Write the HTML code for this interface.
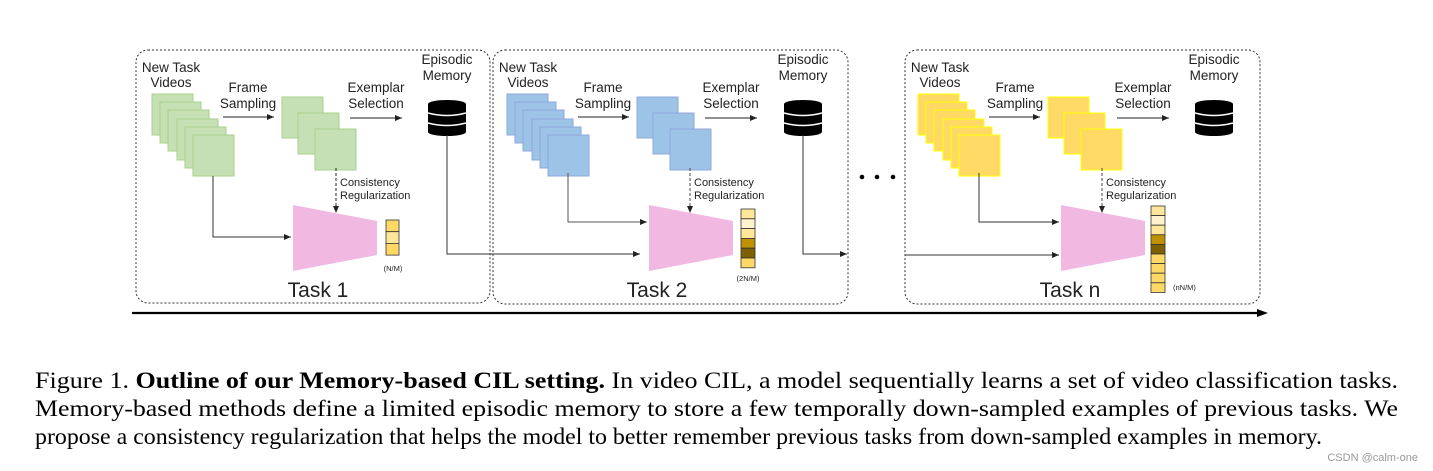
<!DOCTYPE html>
<html><head><meta charset="utf-8"><style>
html,body{margin:0;padding:0;background:#fff;}
svg{display:block;}
.d{font-family:"Liberation Sans","DejaVu Sans",sans-serif;fill:#222;}
.c{font-family:"Liberation Serif",serif;fill:#000;font-size:23px;}
</style></head><body>
<svg width="1433" height="471" viewBox="0 0 1433 471" xmlns="http://www.w3.org/2000/svg">
<defs>
<marker id="ar" markerWidth="8" markerHeight="8" refX="7" refY="4" orient="auto" markerUnits="userSpaceOnUse">
<path d="M0,1 L7,4 L0,7 z" fill="#222"/></marker>
<g id="db">
<ellipse cx="0" cy="4" rx="19" ry="4" fill="#000"/>
<rect x="-19" y="4" width="38" height="28" fill="#000"/>
<ellipse cx="0" cy="32" rx="19" ry="4" fill="#000"/>
<path d="M-19,13 Q0,18 19,13 M-19,23 Q0,28 19,23" stroke="#fff" stroke-width="1.5" fill="none"/>
</g>
</defs>

<rect x="136" y="50" width="354" height="253" rx="12" fill="none" stroke="#333" stroke-dasharray="2,2"/>
<rect x="493" y="50" width="355" height="254" rx="12" fill="none" stroke="#333" stroke-dasharray="2,2"/>
<rect x="905" y="50" width="355" height="254" rx="12" fill="none" stroke="#333" stroke-dasharray="2,2"/>

<!-- TASK 1 -->
<g class="d">
<text x="171" y="72" font-size="13.5" text-anchor="middle">New Task</text>
<text x="171" y="87" font-size="13.5" text-anchor="middle">Videos</text>
<text x="248" y="92" font-size="13.5" text-anchor="middle">Frame</text>
<text x="248" y="108" font-size="13.5" text-anchor="middle">Sampling</text>
<text x="376" y="92" font-size="13.5" text-anchor="middle">Exemplar</text>
<text x="376" y="108" font-size="13.5" text-anchor="middle">Selection</text>
<text x="447" y="64" font-size="13.5" text-anchor="middle">Episodic</text>
<text x="447" y="80" font-size="13.5" text-anchor="middle">Memory</text>
<text x="340" y="186" font-size="11">Consistency</text>
<text x="340" y="199" font-size="11">Regularization</text>
<text x="330" y="236" font-size="13.5" text-anchor="middle">Video</text>
<text x="330" y="252" font-size="13.5" text-anchor="middle">Classifier</text>
<text x="393" y="271" font-size="7.5" text-anchor="middle">(N/M)</text>
<text x="318" y="297" font-size="21" text-anchor="middle">Task 1</text>
</g>
<g fill="#c5e0b4" stroke="#a9d18e">
<rect x="152" y="94" width="41" height="41"/><rect x="160" y="102" width="41" height="41"/><rect x="168" y="110" width="41" height="41"/><rect x="177" y="119" width="41" height="41"/><rect x="185" y="127" width="41" height="41"/><rect x="193" y="135" width="41" height="41"/>
<rect x="282" y="97" width="41" height="41"/><rect x="298" y="113" width="41" height="41"/><rect x="315" y="129" width="41" height="41"/>
</g>
<use href="#db" x="447" y="100"/>
<line x1="223" y1="117" x2="274" y2="117" stroke="#222" marker-end="url(#ar)"/>
<line x1="350" y1="118" x2="402" y2="118" stroke="#222" marker-end="url(#ar)"/>
<line x1="336" y1="168" x2="336" y2="213" stroke="#222" stroke-dasharray="3,2" marker-end="url(#ar)"/>
<polygon points="293,205 377,221 377,255 293,271" fill="#f1b9e1"/>
<polyline points="213,176 213,237 291,237" fill="none" stroke="#333" marker-end="url(#ar)"/>
<g stroke="#333" stroke-width="0.8">
<rect x="386" y="220" width="13" height="11.7" fill="#ffd966"/><rect x="386" y="231.7" width="13" height="11.7" fill="#ffe699"/><rect x="386" y="243.4" width="13" height="11.7" fill="#ffd966"/>
</g>
<polyline points="447,135 447,254 640,254" fill="none" stroke="#333" marker-end="url(#ar)"/>

<!-- TASK 2 -->
<g class="d">
<text x="528" y="72" font-size="13.5" text-anchor="middle">New Task</text>
<text x="528" y="87" font-size="13.5" text-anchor="middle">Videos</text>
<text x="603" y="92" font-size="13.5" text-anchor="middle">Frame</text>
<text x="603" y="108" font-size="13.5" text-anchor="middle">Sampling</text>
<text x="731" y="92" font-size="13.5" text-anchor="middle">Exemplar</text>
<text x="731" y="108" font-size="13.5" text-anchor="middle">Selection</text>
<text x="803" y="64" font-size="13.5" text-anchor="middle">Episodic</text>
<text x="803" y="80" font-size="13.5" text-anchor="middle">Memory</text>
<text x="694" y="186" font-size="11">Consistency</text>
<text x="694" y="199" font-size="11">Regularization</text>
<text x="686" y="236" font-size="13.5" text-anchor="middle">Video</text>
<text x="686" y="252" font-size="13.5" text-anchor="middle">Classifier</text>
<text x="748" y="281" font-size="7.5" text-anchor="middle">(2N/M)</text>
<text x="657" y="297" font-size="21" text-anchor="middle">Task 2</text>
</g>
<g fill="#9dc3e6" stroke="#8faadc">
<rect x="507" y="94" width="41" height="41"/><rect x="515" y="102" width="41" height="41"/><rect x="523" y="110" width="41" height="41"/><rect x="532" y="119" width="41" height="41"/><rect x="540" y="127" width="41" height="41"/><rect x="548" y="135" width="41" height="41"/>
<rect x="637" y="97" width="41" height="41"/><rect x="653" y="113" width="41" height="41"/><rect x="670" y="129" width="41" height="41"/>
</g>
<use href="#db" x="803" y="100"/>
<line x1="578" y1="117" x2="629" y2="117" stroke="#222" marker-end="url(#ar)"/>
<line x1="705" y1="118" x2="757" y2="118" stroke="#222" marker-end="url(#ar)"/>
<line x1="690" y1="168" x2="690" y2="213" stroke="#444" stroke-dasharray="3,2" marker-end="url(#ar)"/>
<polygon points="649,205 733,221 733,255 649,271" fill="#f1b9e1"/>
<polyline points="568,173 568,222 647,222" fill="none" stroke="#555" marker-end="url(#ar)"/>
<g stroke="#333" stroke-width="0.8">
<rect x="741" y="209" width="14" height="9.8" fill="#ffe699"/><rect x="741" y="218.8" width="14" height="9.8" fill="#fff2cc"/><rect x="741" y="228.6" width="14" height="9.8" fill="#ffe699"/><rect x="741" y="238.4" width="14" height="9.8" fill="#bf9000"/><rect x="741" y="248.2" width="14" height="9.8" fill="#7f6000"/><rect x="741" y="258" width="14" height="9.8" fill="#ffd966"/>
</g>
<polyline points="803,135 803,254 847,254" fill="none" stroke="#333" marker-end="url(#ar)"/>

<circle cx="862" cy="177" r="2.3" fill="#000"/><circle cx="877" cy="177" r="2.3" fill="#000"/><circle cx="893" cy="177" r="2.3" fill="#000"/>

<!-- TASK n -->
<g class="d">
<text x="940" y="72" font-size="13.5" text-anchor="middle">New Task</text>
<text x="940" y="87" font-size="13.5" text-anchor="middle">Videos</text>
<text x="1015" y="92" font-size="13.5" text-anchor="middle">Frame</text>
<text x="1015" y="108" font-size="13.5" text-anchor="middle">Sampling</text>
<text x="1143" y="92" font-size="13.5" text-anchor="middle">Exemplar</text>
<text x="1143" y="108" font-size="13.5" text-anchor="middle">Selection</text>
<text x="1214" y="64" font-size="13.5" text-anchor="middle">Episodic</text>
<text x="1214" y="80" font-size="13.5" text-anchor="middle">Memory</text>
<text x="1106" y="186" font-size="11">Consistency</text>
<text x="1106" y="199" font-size="11">Regularization</text>
<text x="1097" y="236" font-size="13.5" text-anchor="middle">Video</text>
<text x="1097" y="252" font-size="13.5" text-anchor="middle">Classifier</text>
<text x="1173" y="290" font-size="7.5">(nN/M)</text>
<text x="1070" y="297" font-size="21" text-anchor="middle">Task n</text>
</g>
<g fill="#ffd966" stroke="#ffff00">
<rect x="918" y="94" width="41" height="41"/><rect x="926" y="102" width="41" height="41"/><rect x="934" y="110" width="41" height="41"/><rect x="943" y="119" width="41" height="41"/><rect x="951" y="127" width="41" height="41"/><rect x="959" y="135" width="41" height="41"/>
<rect x="1048" y="97" width="41" height="41"/><rect x="1064" y="113" width="41" height="41"/><rect x="1081" y="129" width="41" height="41"/>
</g>
<use href="#db" x="1214" y="100"/>
<line x1="989" y1="117" x2="1040" y2="117" stroke="#222" marker-end="url(#ar)"/>
<line x1="1117" y1="118" x2="1169" y2="118" stroke="#222" marker-end="url(#ar)"/>
<line x1="1102" y1="168" x2="1102" y2="213" stroke="#444" stroke-dasharray="3,2" marker-end="url(#ar)"/>
<polygon points="1061,205 1145,221 1145,255 1061,271" fill="#f1b9e1"/>
<polyline points="979,173 979,222 1059,222" fill="none" stroke="#333" marker-end="url(#ar)"/>
<polyline points="905,255 1059,255" fill="none" stroke="#333" marker-end="url(#ar)"/>
<g stroke="#333" stroke-width="0.8">
<rect x="1151" y="206" width="14" height="9.6" fill="#ffe699"/><rect x="1151" y="215.6" width="14" height="9.6" fill="#fff2cc"/><rect x="1151" y="225.2" width="14" height="9.6" fill="#ffe699"/><rect x="1151" y="234.8" width="14" height="9.6" fill="#bf9000"/><rect x="1151" y="244.4" width="14" height="9.6" fill="#7f6000"/><rect x="1151" y="254" width="14" height="9.6" fill="#ffd966"/><rect x="1151" y="263.6" width="14" height="9.6" fill="#ffd966"/><rect x="1151" y="273.2" width="14" height="9.6" fill="#ffd966"/><rect x="1151" y="282.8" width="14" height="9.6" fill="#ffd966"/>
</g>

<line x1="132" y1="313" x2="1258" y2="313" stroke="#000" stroke-width="2.2"/>
<path d="M1257,309 L1268,313 L1257,317 z" fill="#000"/>

<text class="c" x="35" y="388" textLength="1363" lengthAdjust="spacingAndGlyphs">Figure 1.  <tspan font-weight="bold">Outline of our Memory-based CIL setting.</tspan>  In video CIL, a model sequentially learns a set of video classification tasks.</text>
<text class="c" x="35" y="416" textLength="1363" lengthAdjust="spacingAndGlyphs">Memory-based methods define a limited episodic memory to store a few temporally down-sampled examples of previous tasks.  We</text>
<text class="c" x="35" y="444" textLength="1287" lengthAdjust="spacingAndGlyphs">propose a consistency regularization that helps the model to better remember previous tasks from down-sampled examples in memory.</text>
<text x="1418" y="461" font-family="Liberation Sans, sans-serif" font-size="11" fill="#999" text-anchor="end">CSDN @calm-one</text>
</svg>
</body></html>
